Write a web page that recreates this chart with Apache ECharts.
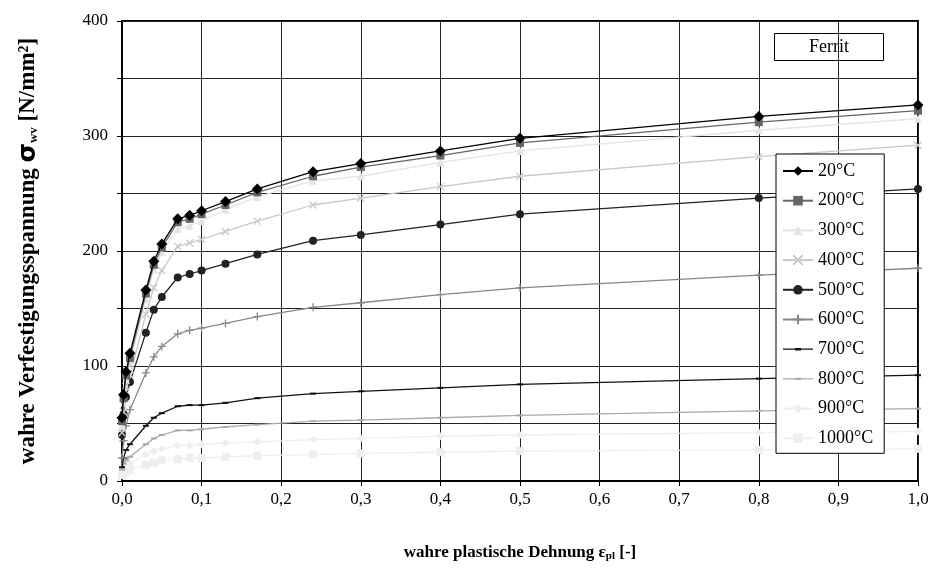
<!DOCTYPE html>
<html>
<head>
<meta charset="utf-8">
<script src="https://cdn.jsdelivr.net/npm/echarts@6/dist/echarts.min.js"></script>
<style>
html,body{margin:0;padding:0;background:#fff;}
#chart{width:935px;height:568px;}
</style>
</head>
<body>
<div id="chart"></div>
<script>
// Strain values (x)
var strain = [0, 0.002, 0.005, 0.01, 0.03, 0.04, 0.05, 0.07, 0.085, 0.1, 0.13, 0.17, 0.24, 0.3, 0.4, 0.5, 0.8, 1.0];
var seriesNames = ['20°C','200°C','300°C','400°C','500°C','600°C','700°C','800°C','900°C','1000°C'];
var s20   = [55, 75, 95, 111, 166, 191, 206, 228, 231, 235, 243, 254, 269, 276, 287, 298, 317, 327];
var s200  = [52, 72, 92, 107, 163, 188, 203, 225, 228, 232, 240, 251, 265, 273, 283, 294, 312, 322];
var s300  = [48, 68, 88, 103, 158, 184, 199, 219, 222, 226, 236, 247, 261, 265, 277, 287, 305, 315];
var s400  = [42, 60, 78, 92, 145, 168, 183, 204, 207, 210, 217, 226, 240, 246, 256, 265, 282, 292];
var s500  = [40, 58, 73, 86, 129, 149, 160, 177, 180, 183, 189, 197, 209, 214, 223, 232, 246, 254];
var s600  = [20, 35, 48, 62, 94, 108, 117, 128, 131, 133, 137, 143, 151, 155, 162, 168, 179, 185];
var s700  = [12, 20, 27, 32, 48, 55, 59, 65, 66, 66, 68, 72, 76, 78, 81, 84, 89, 92];
var s800  = [10, 15, 18, 21, 32, 37, 40, 44, 44, 45, 47, 49, 52, 53, 55, 57, 61, 63];
var s900  = [8, 12, 14, 15, 23, 26, 28, 31, 31, 32, 33, 34, 36, 37, 39, 40, 42, 43];
var s1000 = [5, 7, 8, 10, 14, 16, 18, 19, 20, 20, 21, 22, 23, 24, 25, 26, 27, 28];
var yTicks = [0, 100, 200, 300, 400];
var xTicks = [0, 0.1, 0.2, 0.3, 0.4, 0.5, 0.6, 0.7, 0.8, 0.9, 1.0];

var allValues = [s20, s200, s300, s400, s500, s600, s700, s800, s900, s1000];
var colors = ['#000000', '#666666', '#e4e4e4', '#c8c8c8', '#222222', '#888888', '#111111', '#aaaaaa', '#eeeeee', '#eeeeee'];
var symbols = ['diamond', 'rect', 'triangle', 'path://M0,0L10,10M10,0L0,10', 'circle', 'path://M5,0L5,10M0,5L10,5', 'rect', 'rect', 'diamond', 'rect'];
var sizes = [11, 8, 8, 7, 8, 8, [6, 2], [6, 2], 8, 8];
var strokeOnly = [false, false, false, true, false, true, false, false, false, false];
// legend icon for the small-dash markers: a line with a short thicker bar in the middle (30x12 box)
var dashIcon = 'path://M0,0L0.01,0L0.01,0.01L0,0.01Z M29.99,11.99L30,11.99L30,12L29.99,12Z M0,5.4L30,5.4L30,6.6L0,6.6Z M12,4.8L18,4.8L18,7.2L12,7.2Z';

function pairs(vals) {
  return strain.map(function (x, i) { return [x, vals[i]]; });
}

var series = seriesNames.map(function (n, i) {
  return {
    name: n,
    type: 'line',
    data: pairs(allValues[i]),
    symbol: symbols[i],
    symbolSize: sizes[i],
    showSymbol: true,
    showAllSymbol: true,
    lineStyle: { color: colors[i], width: 1.3 },
    itemStyle: strokeOnly[i]
      ? { color: colors[i], borderColor: colors[i], borderWidth: 1.3 }
      : { color: colors[i], borderColor: colors[i], borderWidth: 0 },
    z: 20 - i,
    animation: false
  };
});

var legendData = seriesNames.map(function (n, i) {
  if (i === 6 || i === 7) return { name: n, icon: dashIcon, itemStyle: { color: colors[i], borderWidth: 0 } };
  return { name: n };
});

var chart = echarts.init(document.getElementById('chart'), null, { renderer: 'canvas' });
var serif = '"Liberation Serif", "Times New Roman", serif';

chart.setOption({
  backgroundColor: '#ffffff',
  animation: false,
  textStyle: { fontFamily: serif },
  grid: {
    left: 122, right: 17, top: 21, bottom: 87,
    show: true, borderColor: '#000', borderWidth: 2, backgroundColor: 'transparent'
  },
  xAxis: {
    type: 'value', min: 0, max: 1, interval: 0.1,
    axisLine: { show: true, lineStyle: { color: '#000', width: 2 } },
    axisTick: { show: true, inside: false, length: 5, lineStyle: { color: '#000' } },
    axisLabel: {
      color: '#000', fontSize: 17, fontFamily: serif, margin: 10,
      formatter: function (v) { return v.toFixed(1).replace('.', ','); }
    },
    splitLine: { show: true, lineStyle: { color: '#222', width: 1 } },
    name: '{b|wahre plastische Dehnung ε}{s|pl}{b| [-]}',
    nameLocation: 'middle', nameGap: 62,
    nameTextStyle: {
      rich: {
        b: { fontFamily: serif, fontWeight: 'bold', fontSize: 17, color: '#000' },
        s: { fontFamily: serif, fontWeight: 'bold', fontSize: 11, color: '#000', padding: [8, 0, 0, 0] }
      }
    }
  },
  yAxis: {
    type: 'value', min: 0, max: 400, interval: 50,
    axisLine: { show: true, lineStyle: { color: '#000', width: 2 } },
    axisTick: { show: true, inside: false, length: 5, lineStyle: { color: '#000' } },
    axisLabel: {
      color: '#000', fontSize: 17, fontFamily: serif, margin: 14,
      formatter: function (v) { return yTicks.indexOf(v) >= 0 ? String(v) : ''; }
    },
    splitLine: { show: true, lineStyle: { color: '#222', width: 1 } },
    name: '{b|wahre Verfestigungsspannung }{g|σ}{s|wv}{b| [N/mm²]}',
    nameLocation: 'middle', nameGap: 81, nameRotate: 90,
    nameTextStyle: {
      rich: {
        b: { fontFamily: serif, fontWeight: 'bold', fontSize: 23, color: '#000' },
        g: { fontFamily: '"DejaVu Sans", sans-serif', fontWeight: 'bold', fontSize: 25, color: '#000' },
        s: { fontFamily: serif, fontWeight: 'bold', fontSize: 13, color: '#000', padding: [10, 0, 0, 0] }
      }
    }
  },
  legend: {
    orient: 'vertical',
    left: 776, top: 154,
    data: legendData,
    itemWidth: 30, itemHeight: 12,
    itemGap: 11.7,
    padding: [8, 11, 6, 6],
    backgroundColor: '#fff',
    borderColor: '#000', borderWidth: 1,
    textStyle: { color: '#000', fontSize: 18, fontFamily: serif },
    z: 50
  },
  graphic: [
    {
      type: 'group', left: 774, top: 33, z: 60,
      children: [
        { type: 'rect', shape: { x: 0, y: 0, width: 109, height: 27 },
          style: { fill: '#fff', stroke: '#000', lineWidth: 1 } },
        { type: 'text', x: 54.5, y: 13.5,
          style: { text: 'Ferrit', fill: '#000', font: '18px ' + serif, align: 'center', verticalAlign: 'middle' } }
      ]
    }
  ],
  series: series
});
</script>
</body>
</html>
